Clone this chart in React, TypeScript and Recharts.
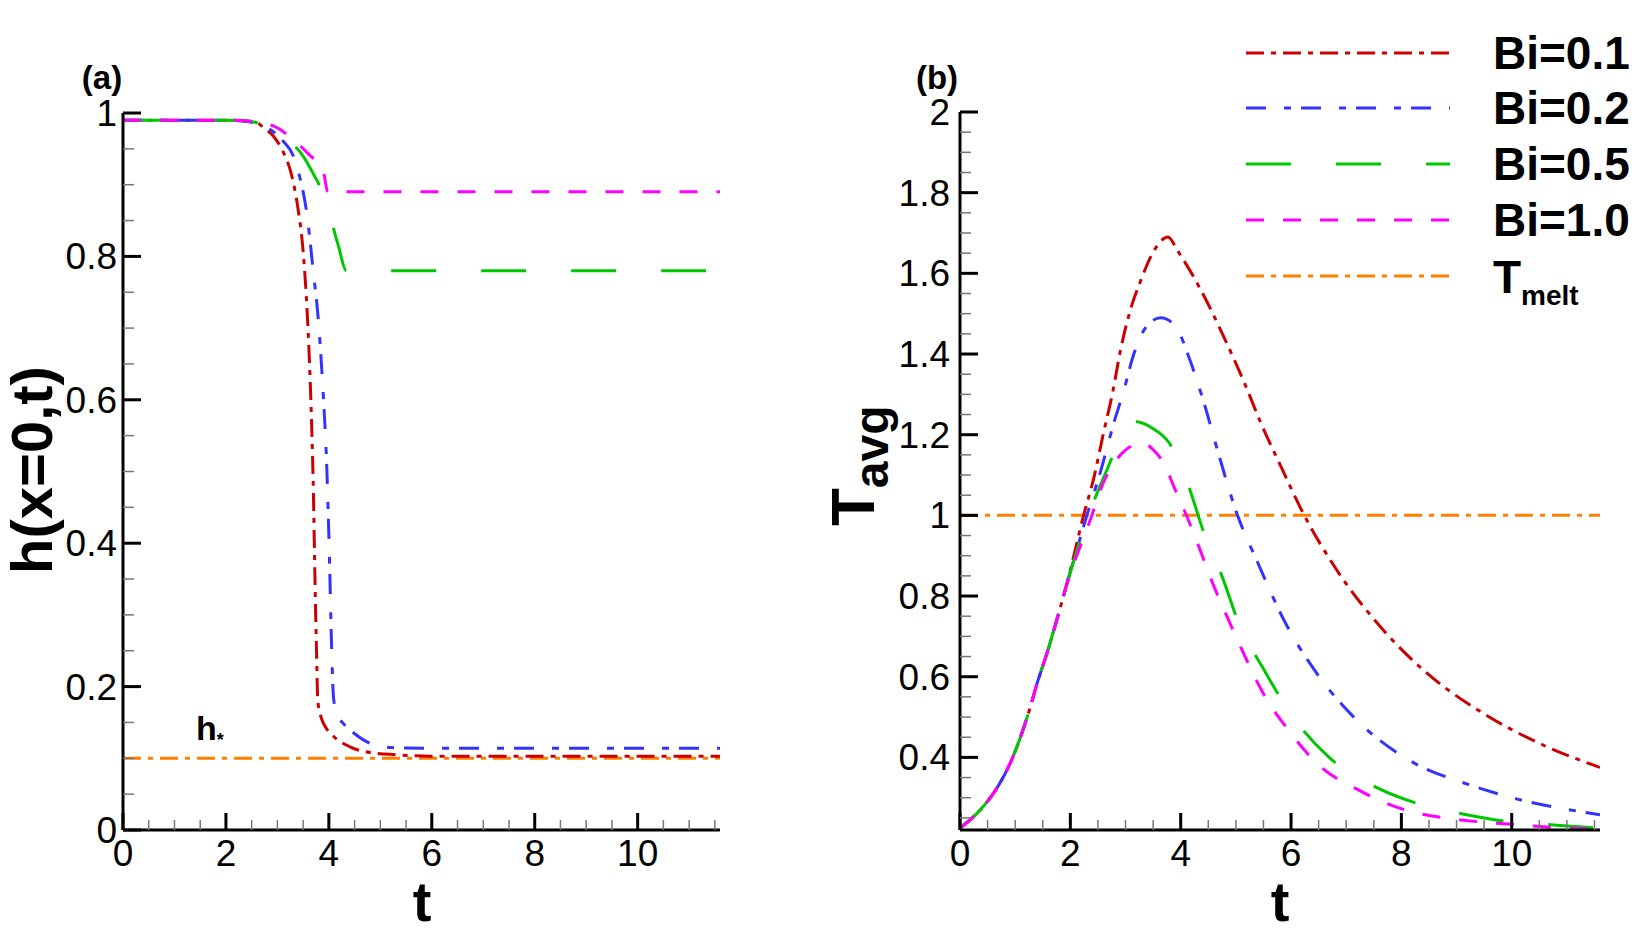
import { LineChart, Line, XAxis, YAxis, ReferenceLine } from 'recharts';

const FONT = '"Liberation Sans", Arial, Helvetica, sans-serif';

// ---- series styling ----
const seriesNames = ['Bi=0.1', 'Bi=0.2', 'Bi=0.5', 'Bi=1.0'];
const seriesColors = ['#cc0000', '#3333ff', '#00c800', '#ff00ff'];
const seriesDash = ['18 7 5 7', '20 18 7 10', '45 45', '18 19'];
const meltColor = '#ff8000';
const meltDash = '18 7 5 7';

const H_STAR = 0.1;
const T_MELT = 1.0;

// ---- axes ----
const tMax = 11.6;
const xMajor = [0, 2, 4, 6, 8, 10];
const hMajor = [0, 0.2, 0.4, 0.6, 0.8, 1];
const TMajor = [0.4, 0.6, 0.8, 1, 1.2, 1.4, 1.6, 1.8, 2];
const TMin = 0.22;

const range = (a: number, b: number, s: number) => {
  const out: number[] = [];
  for (let v = a; v <= b + 1e-9; v += s) out.push(Math.round(v * 1000) / 1000);
  return out;
};
const xTicks = range(0, 11.5, 0.5);
const hTicks = range(0, 1, 0.05);
const TTicks = range(0.25, 2, 0.05);

// ---- panel (a): h(x=0,t), pairs [t, h] ----
const hBi01 = [
  [0, 0.99], [1, 0.99], [2, 0.99], [2.4, 0.989], [2.6, 0.987], [2.72, 0.98], [2.92, 0.968],
  [3.11, 0.946], [3.27, 0.915], [3.4, 0.867], [3.5, 0.807], [3.58, 0.72], [3.65, 0.6],
  [3.7, 0.47], [3.73, 0.35], [3.76, 0.25], [3.785, 0.18], [3.85, 0.157], [3.95, 0.142],
  [4.1, 0.13], [4.41, 0.116], [4.8, 0.108], [5.3, 0.105], [6, 0.103], [8, 0.103], [11.6, 0.103],
];
const hBi02 = [
  [0, 0.99], [1, 0.99], [2, 0.99], [2.4, 0.988], [2.79, 0.98], [3.11, 0.961], [3.31, 0.94],
  [3.44, 0.909], [3.57, 0.861], [3.7, 0.777], [3.79, 0.716], [3.89, 0.608], [3.96, 0.505],
  [4.01, 0.384], [4.05, 0.264], [4.09, 0.185], [4.15, 0.163], [4.3, 0.147], [4.47, 0.136],
  [4.8, 0.121], [5.2, 0.115], [6, 0.114], [11.6, 0.114],
];
const hBi05 = [
  [0, 0.99], [1, 0.99], [2, 0.99], [2.4, 0.989], [2.62, 0.986], [3.0, 0.97], [3.47, 0.943],
  [3.7, 0.915], [3.92, 0.882], [4.18, 0.816], [4.34, 0.78], [5, 0.78], [11.6, 0.78],
];
const hBi10 = [
  [0, 0.99], [1, 0.99], [2, 0.99], [2.4, 0.989], [2.92, 0.982], [3.24, 0.967], [3.6, 0.943],
  [3.89, 0.919], [3.98, 0.89], [5, 0.89], [11.6, 0.89],
];

// ---- panel (b): T_avg, pairs [t, T] ----
const TBi01 = [
  [0, 0.225], [0.3, 0.26], [0.55, 0.3], [0.76, 0.345], [0.94, 0.395], [1.09, 0.448],
  [1.27, 0.523], [1.39, 0.58], [1.58, 0.66], [2.0, 0.865], [2.24, 1.0], [2.42, 1.09],
  [2.61, 1.21], [2.76, 1.3], [2.91, 1.41], [3.09, 1.51], [3.27, 1.58], [3.49, 1.65],
  [3.77, 1.69], [3.94, 1.657], [4.36, 1.56], [4.79, 1.44], [5.15, 1.33], [5.45, 1.23],
  [5.82, 1.12], [6.24, 1.0], [6.74, 0.883], [7.58, 0.73], [8.42, 0.614], [9.51, 0.507],
  [10.42, 0.44], [11.6, 0.375],
];
const TBi02 = [
  [0, 0.225], [0.3, 0.26], [0.55, 0.3], [0.76, 0.345], [0.94, 0.395], [1.09, 0.448],
  [1.27, 0.523], [1.39, 0.58], [1.58, 0.66], [2.0, 0.86], [2.3, 1.0], [2.55, 1.11],
  [2.79, 1.23], [2.97, 1.31], [3.15, 1.4], [3.39, 1.47], [3.64, 1.49], [3.9, 1.47],
  [4.18, 1.38], [4.42, 1.28], [4.67, 1.16], [5.03, 1.0], [5.39, 0.885], [5.88, 0.738],
  [6.48, 0.606], [7.21, 0.49], [8.18, 0.39], [9.21, 0.333], [10.12, 0.296], [11.6, 0.258],
];
const TBi05 = [
  [0, 0.225], [0.3, 0.26], [0.55, 0.3], [0.76, 0.345], [0.94, 0.395], [1.09, 0.448],
  [1.27, 0.523], [1.39, 0.58], [1.58, 0.66], [2.0, 0.86], [2.33, 1.0], [2.67, 1.115],
  [3.0, 1.215], [3.2, 1.232], [3.5, 1.215], [3.79, 1.18], [4.15, 1.07], [4.42, 0.957],
  [4.76, 0.845], [5.06, 0.73], [5.49, 0.622], [6.0, 0.507], [6.69, 0.4], [7.51, 0.328],
  [8.33, 0.284], [9.18, 0.258], [9.97, 0.24], [10.82, 0.232], [11.6, 0.224],
];
const TBi10 = [
  [0, 0.225], [0.3, 0.26], [0.55, 0.3], [0.76, 0.345], [0.94, 0.395], [1.09, 0.448],
  [1.27, 0.523], [1.39, 0.58], [1.58, 0.66], [2.0, 0.855], [2.39, 1.0], [2.55, 1.065],
  [2.85, 1.14], [3.15, 1.175], [3.3, 1.18], [3.52, 1.16], [3.73, 1.12], [3.88, 1.07],
  [4.03, 1.024], [4.3, 0.933], [4.55, 0.842], [4.85, 0.746], [5.15, 0.655], [5.49, 0.56],
  [5.94, 0.47], [6.51, 0.38], [7.21, 0.32], [8.06, 0.27], [9.03, 0.246], [10.0, 0.234],
  [11.15, 0.224], [11.6, 0.222],
];

const toPts = (a: number[][]) => a.map(([t, v]) => ({ t, v }));
const hSeries = [hBi01, hBi02, hBi05, hBi10].map(toPts);
const TSeries = [TBi01, TBi02, TBi05, TBi10].map(toPts);

const isMajor = (majors: number[], v: number) => majors.some((m) => Math.abs(m - v) < 1e-6);

const TICK_FONT = 37;

function makeXTick(majors: number[]) {
  return (props: any) => {
    const { x, y, payload } = props;
    const major = isMajor(majors, payload.value);
    return (
      <g>
        <line x1={x} x2={x} y1={y} y2={y - (major ? 17 : 10)} stroke={major ? '#000' : '#777'} strokeWidth={major ? 3 : 1.5} />
        {major && (
          <text x={x} y={y + 36} textAnchor="middle" fontSize={TICK_FONT} fontFamily={FONT} fill="#000">
            {payload.value}
          </text>
        )}
      </g>
    );
  };
}

function makeYTick(majors: number[], gap: number) {
  return (props: any) => {
    const { x, y, payload } = props;
    const major = isMajor(majors, payload.value);
    return (
      <g>
        <line x1={x} x2={x + (major ? 18 : 11)} y1={y} y2={y} stroke={major ? '#000' : '#777'} strokeWidth={major ? 3 : 1.5} />
        {major && (
          <text x={x - gap} y={y + 13} textAnchor="end" fontSize={TICK_FONT} fontFamily={FONT} fill="#000">
            {payload.value}
          </text>
        )}
      </g>
    );
  };
}

const axisLine = { stroke: '#000', strokeWidth: 3 };

function PanelA() {
  return (
    <LineChart width={760} height={934} margin={{ top: 113, right: 40, bottom: 64, left: 63 }}>
      <XAxis
        type="number"
        dataKey="t"
        domain={[0, tMax]}
        ticks={xTicks}
        interval={0}
        allowDataOverflow
        tickLine={false}
        tickSize={0}
        tickMargin={0}
        axisLine={axisLine}
        tick={makeXTick(xMajor)}
        height={40}
      />
      <YAxis
        type="number"
        domain={[0, 1]}
        ticks={hTicks}
        interval={0}
        allowDataOverflow
        tickLine={false}
        tickSize={0}
        tickMargin={0}
        axisLine={axisLine}
        tick={makeYTick(hMajor, 6)}
        width={60}
      />
      <ReferenceLine y={H_STAR} stroke={meltColor} strokeWidth={3} strokeDasharray={meltDash} />
      {hSeries.map((d, i) => (
        <Line
          key={seriesNames[i]}
          data={d}
          dataKey="v"
          type="monotone"
          stroke={seriesColors[i]}
          strokeWidth={3}
          strokeDasharray={seriesDash[i]}
          dot={false}
          activeDot={false}
          isAnimationActive={false}
        />
      ))}
    </LineChart>
  );
}

function PanelB() {
  return (
    <LineChart width={882} height={934} margin={{ top: 112, right: 42, bottom: 64, left: 140 }}>
      <XAxis
        type="number"
        dataKey="t"
        domain={[0, tMax]}
        ticks={xTicks}
        interval={0}
        allowDataOverflow
        tickLine={false}
        tickSize={0}
        tickMargin={0}
        axisLine={axisLine}
        tick={makeXTick(xMajor)}
        height={40}
      />
      <YAxis
        type="number"
        domain={[TMin, 2]}
        ticks={TTicks}
        interval={0}
        allowDataOverflow
        tickLine={false}
        tickSize={0}
        tickMargin={0}
        axisLine={axisLine}
        tick={makeYTick(TMajor, 10)}
        width={60}
      />
      <ReferenceLine y={T_MELT} stroke={meltColor} strokeWidth={3} strokeDasharray={meltDash} />
      {TSeries.map((d, i) => (
        <Line
          key={seriesNames[i]}
          data={d}
          dataKey="v"
          type="monotone"
          stroke={seriesColors[i]}
          strokeWidth={3}
          strokeDasharray={seriesDash[i]}
          dot={false}
          activeDot={false}
          isAnimationActive={false}
        />
      ))}
    </LineChart>
  );
}

function Labels() {
  const legendY = [53, 108, 164, 220];
  return (
    <svg width={1642} height={934} style={{ position: 'absolute', left: 0, top: 0, pointerEvents: 'none' }} fontFamily={FONT}>
      <text x={102} y={89} textAnchor="middle" fontSize={33} fontWeight="bold">(a)</text>
      <text x={937} y={89} textAnchor="middle" fontSize={33} fontWeight="bold">(b)</text>

      <text transform="translate(52,470) rotate(-90)" textAnchor="middle" fontSize={58} fontWeight="bold">h(x=0,t)</text>
      <text transform="translate(874,526) rotate(-90)" textAnchor="start" fontSize={62} fontWeight="bold">
        T<tspan fontSize={48} dy={14}>avg</tspan>
      </text>

      <text x={422} y={921} textAnchor="middle" fontSize={56} fontWeight="bold">t</text>
      <text x={1280} y={921} textAnchor="middle" fontSize={56} fontWeight="bold">t</text>

      <text x={196} y={740} fontSize={34} fontWeight="bold">
        h<tspan fontSize={18} dy={6}>*</tspan>
      </text>

      {seriesNames.map((n, i) => (
        <g key={n}>
          <line x1={1246} x2={1450} y1={legendY[i]} y2={legendY[i]} stroke={seriesColors[i]} strokeWidth={3} strokeDasharray={seriesDash[i]} />
          <text x={1493} y={legendY[i] + 16} fontSize={46} fontWeight="bold">{n}</text>
        </g>
      ))}
      <line x1={1246} x2={1450} y1={276} y2={276} stroke={meltColor} strokeWidth={3} strokeDasharray={meltDash} />
      <text x={1493} y={293} fontSize={46} fontWeight="bold">
        T<tspan fontSize={28} dy={12}>melt</tspan>
      </text>
    </svg>
  );
}

export default function App() {
  return (
    <div style={{ position: 'absolute', left: 0, top: 0, width: 1642, height: 934, background: '#fff' }}>
      <div style={{ position: 'absolute', left: 0, top: 0 }}>
        <PanelA />
      </div>
      <div style={{ position: 'absolute', left: 760, top: 0 }}>
        <PanelB />
      </div>
      <Labels />
    </div>
  );
}
